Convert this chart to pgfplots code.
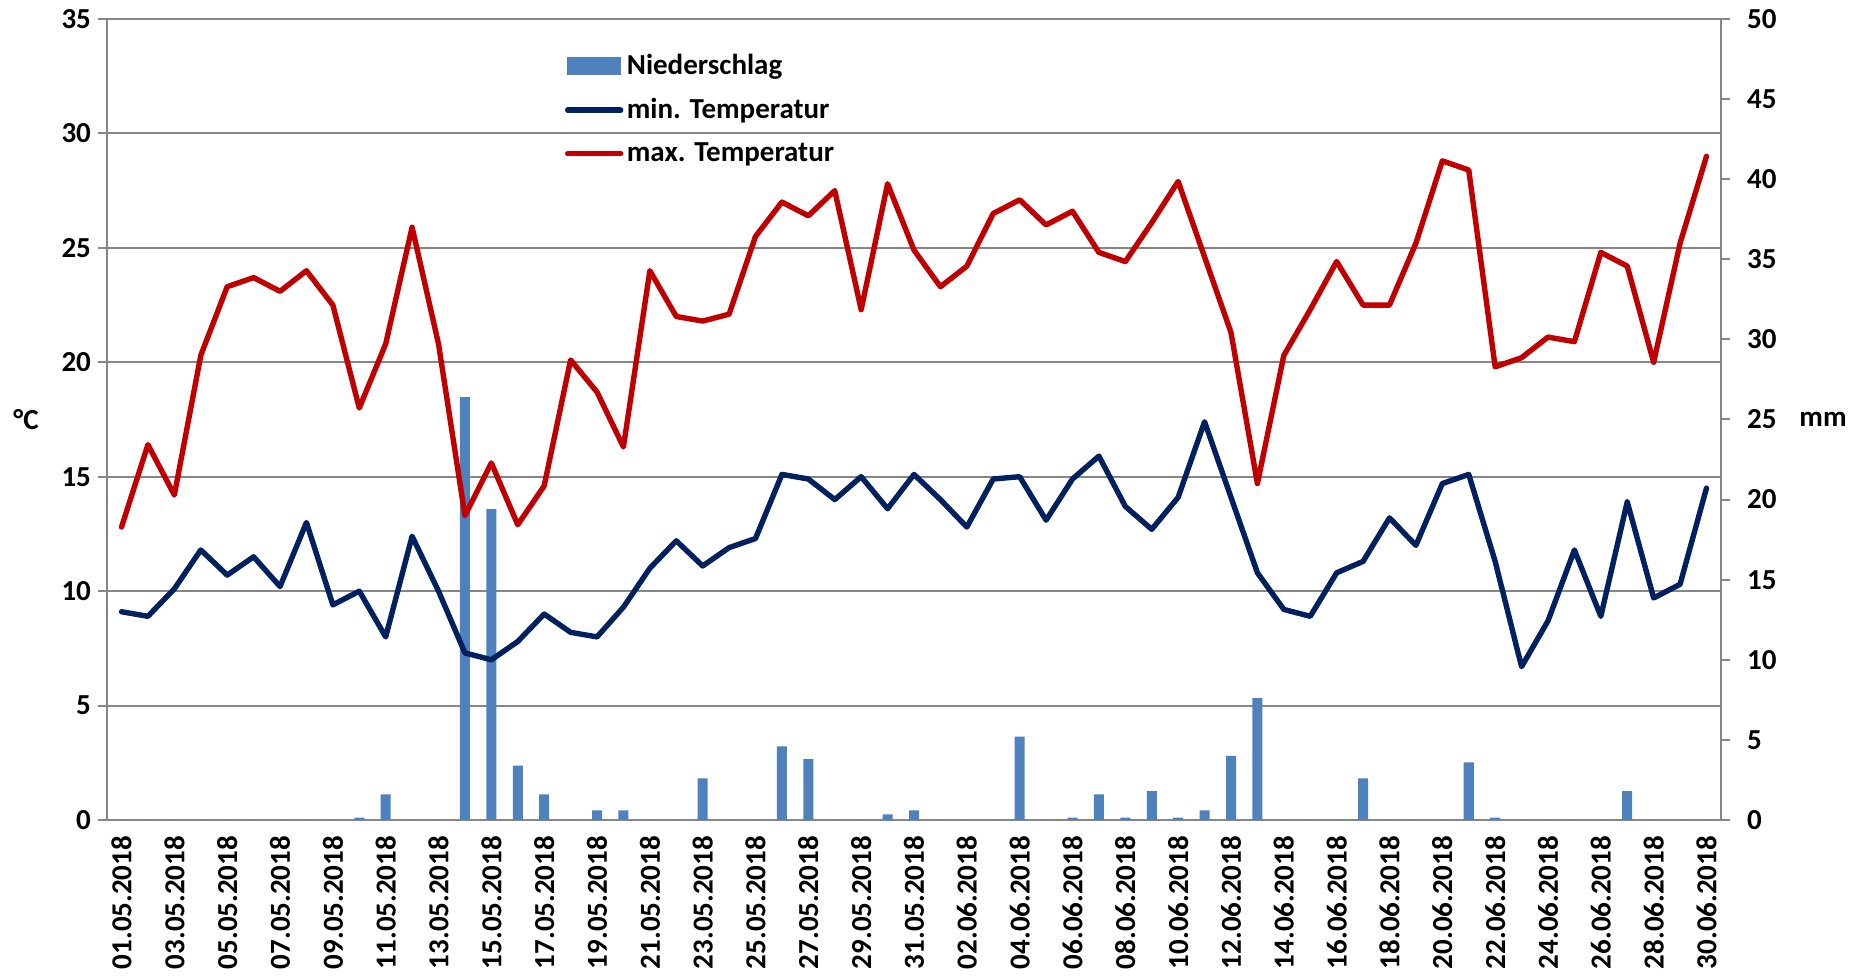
\documentclass[border=0pt]{standalone}
\usepackage{fontspec}
\setmainfont{Carlito}
\usepackage{pgfplots}
\usepackage{pgfplotstable}
\pgfplotsset{compat=1.18}
\definecolor{barblue}{RGB}{79,129,189}
\definecolor{minblue}{RGB}{0,32,96}
\definecolor{maxred}{RGB}{192,0,0}
\definecolor{gridgray}{RGB}{134,134,134}
\newcommand\lbl{\fontsize{14.5}{17}\selectfont\bfseries}
\pgfplotstableread{
i min max rain
0 9.1 12.8 0
1 8.9 16.4 0
2 10.1 14.2 0
3 11.8 20.3 0
4 10.7 23.3 0
5 11.5 23.7 0
6 10.2 23.1 0
7 13.0 24.0 0
8 9.4 22.5 0
9 10.0 18.0 0.15
10 8.0 20.8 1.6
11 12.4 25.9 0
12 10.0 20.8 0
13 7.3 13.3 26.4
14 7.0 15.6 19.4
15 7.8 12.9 3.4
16 9.0 14.6 1.6
17 8.2 20.1 0
18 8.0 18.7 0.6
19 9.3 16.3 0.6
20 11.0 24.0 0
21 12.2 22.0 0
22 11.1 21.8 2.6
23 11.9 22.1 0
24 12.3 25.5 0
25 15.1 27.0 4.6
26 14.9 26.4 3.8
27 14.0 27.5 0
28 15.0 22.3 0
29 13.6 27.8 0.35
30 15.1 24.9 0.6
31 14.0 23.3 0
32 12.8 24.2 0
33 14.9 26.5 0
34 15.0 27.1 5.2
35 13.1 26.0 0
36 14.9 26.6 0.15
37 15.9 24.8 1.6
38 13.7 24.4 0.15
39 12.7 26.1 1.8
40 14.1 27.9 0.15
41 17.4 24.6 0.6
42 14.1 21.3 4.0
43 10.8 14.7 7.6
44 9.2 20.3 0
45 8.9 22.3 0
46 10.8 24.4 0
47 11.3 22.5 2.6
48 13.2 22.5 0
49 12.0 25.2 0
50 14.7 28.8 0
51 15.1 28.4 3.6
52 11.3 19.8 0.15
53 6.7 20.2 0
54 8.7 21.1 0
55 11.8 20.9 0
56 8.9 24.8 0
57 13.9 24.2 1.8
58 9.7 20.0 0
59 10.3 25.2 0
60 14.5 29.0 0
}\data
\begin{document}
\begin{tikzpicture}
\useasboundingbox (-53.5pt,-78.5pt) rectangle (880.5pt,410pt);
\pgfplotsset{base/.style={scale only axis, width=807pt, height=400.5pt,
  xmin=-0.55, xmax=60.55, at={(0,0)}, anchor=south west,
  /pgf/number format/assume math mode=true,
  ticklabel style={font=\lbl}, label style={font=\lbl}}}
% axis A: temperature scale, grid, x labels
\begin{axis}[base, ymin=0, ymax=35, ytick={0,5,...,35},
  ymajorgrids, grid style={gridgray, line width=1pt},
  axis x line=bottom, axis y line=left,
  axis line style={gridgray, line width=1pt, -},
  xtick={0,2,...,60},
  xticklabels={01.05.2018,03.05.2018,05.05.2018,07.05.2018,09.05.2018,11.05.2018,13.05.2018,15.05.2018,17.05.2018,19.05.2018,21.05.2018,23.05.2018,25.05.2018,27.05.2018,29.05.2018,31.05.2018,02.06.2018,04.06.2018,06.06.2018,08.06.2018,10.06.2018,12.06.2018,14.06.2018,16.06.2018,18.06.2018,20.06.2018,22.06.2018,24.06.2018,26.06.2018,28.06.2018,30.06.2018},
  xticklabel style={rotate=90, anchor=east},
  xtick style={draw=none},
  ytick style={gridgray, line width=1pt},
  tick align=outside, major tick length=4.5pt,
  ylabel={°C}, ylabel style={font=\lbl, rotate=-90, at={(axis description cs:-0.0502,0.5)}, anchor=center}]
\end{axis}
% axis B: precipitation
\begin{axis}[base, ymin=0, ymax=50, ytick={0,5,...,50},
  axis x line=none, axis y line=right,
  axis line style={gridgray, line width=1pt, -},
  ytick style={gridgray, line width=1pt},
  yticklabel style={xshift=5pt},
  tick align=outside, major tick length=4.5pt,
  ylabel={mm}, ylabel style={font=\lbl, rotate=-90, at={(axis description cs:1.0632,0.5)}, anchor=center}]
\addplot[ybar, bar width=5pt, fill=barblue, draw=none] table[x=i, y=rain]{\data};
\end{axis}
% axis C: temperature lines
\begin{axis}[base, ymin=0, ymax=35, hide axis,
  legend style={draw=none, fill=none, at={(axis description cs:0.2798,0.966)}, anchor=north west,
    font=\lbl, row sep=7pt, nodes={inner sep=1.75pt}},
  legend cell align=left]
\addlegendimage{legend image code/.code={\fill[barblue] (0pt,-4.25pt) rectangle (26.5pt,4.25pt);}}
\addlegendentry{Niederschlag}
\addplot[minblue, line width=2.7pt, line join=round, line cap=round,
  legend image code/.code={\draw[minblue, line width=2.7pt, line cap=round] (0pt,0pt) -- (26.5pt,0pt);}]
  table[x=i, y=min]{\data};
\addlegendentry{min. Temperatur}
\addplot[maxred, line width=2.7pt, line join=round, line cap=round,
  legend image code/.code={\draw[maxred, line width=2.7pt, line cap=round] (0pt,0pt) -- (26.5pt,0pt);}]
  table[x=i, y=max]{\data};
\addlegendentry{max. Temperatur}
\end{axis}
\end{tikzpicture}
\end{document}
